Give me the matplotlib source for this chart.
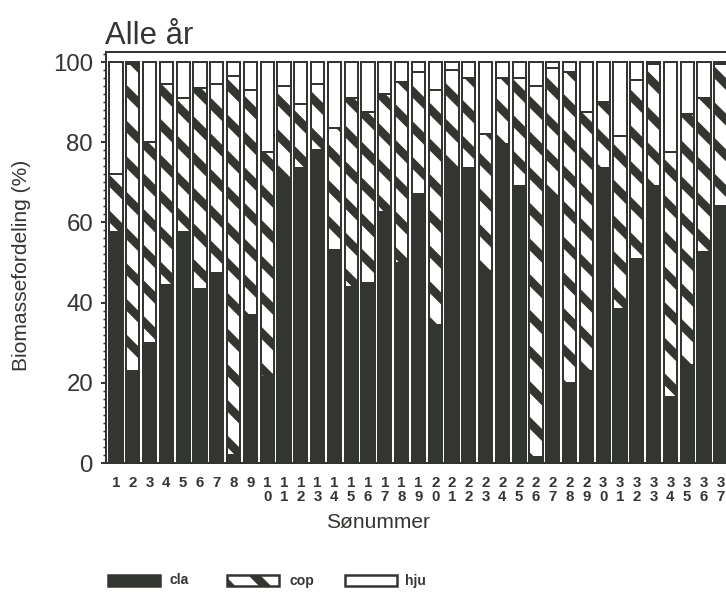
import matplotlib
matplotlib.use("Agg")
import matplotlib.pyplot as plt
from matplotlib.patches import Rectangle
from matplotlib.ticker import MultipleLocator
import numpy as np

# Biomass distribution per lake (percent): cla, cop, hju
lakes = list(range(1, 38))
cla = [57.5, 23, 30, 44.5, 57.5, 43.5, 47.5, 2, 37, 21.5,
       71, 73.5, 78, 53, 44, 45, 62.5, 50, 67, 34.5,
       73.5, 73.5, 48, 79.5, 69, 1.5, 66.5, 20, 23, 73.5,
       38.5, 51, 69, 16.5, 24.5, 52.5, 64]
cop = [14.5, 76.5, 50, 50, 33.5, 50, 47, 94.5, 56, 56,
       23, 16, 16.5, 30.5, 47, 42.5, 29.5, 45, 30.5, 58.5,
       24.5, 22.5, 34, 16.5, 27, 92.5, 32, 77.5, 64.5, 16.5,
       43, 44.5, 30.5, 61, 62.5, 38.5, 35.5]
hju = [28, 0.5, 20, 5.5, 9, 6.5, 5.5, 3.5, 7, 22.5,
       6, 10.5, 5.5, 16.5, 9, 12.5, 8, 5, 2.5, 7,
       2, 4, 18, 4, 4, 6, 1.5, 2.5, 12.5, 10,
       18.5, 4.5, 0.5, 22.5, 13, 9, 0.5]
tick_labels = ["\n".join(str(n)) for n in lakes]
series_names = ["cla", "cop", "hju"]

DARK = "#323530"
W, H, DPI = 726, 597, 107


def pt(px):
    """Convert a size in output pixels to points."""
    return px * 72 / DPI


plt.rcParams["font.family"] = ["Liberation Sans", "DejaVu Sans"]
plt.rcParams["hatch.linewidth"] = pt(8.5)
plt.rcParams["hatch.color"] = DARK

fig = plt.figure(figsize=(W / DPI, H / DPI), dpi=DPI)
fig.patch.set_facecolor("white")

ax_left, ax_bottom = 106 / W, 1 - 463 / H
ax_height = (463 - 52) / H
ax_width = (38 - 0.405) * 16.8 / W
ax = fig.add_axes([ax_left, ax_bottom, ax_width, ax_height])

x = np.array(lakes)
cla_a, cop_a, hju_a = np.array(cla), np.array(cop), np.array(hju)
bw = 0.78
lw = pt(2)
ax.bar(x, cla_a, bw, color=DARK, edgecolor=DARK, linewidth=lw, zorder=2)
ax.bar(x, cop_a, bw, bottom=cla_a, color="white", edgecolor=DARK,
       linewidth=lw, hatch="\\", zorder=2)
ax.bar(x, hju_a, bw, bottom=cla_a + cop_a, color="white", edgecolor=DARK,
       linewidth=lw, zorder=2)

ax.set_xlim(0.405, 38)
ax.set_ylim(0, 102.5)
ax.set_xticks(x)
ax.set_xticklabels(tick_labels, fontsize=pt(15), fontweight="bold",
                   linespacing=1.0)
ax.tick_params(axis="x", length=0, pad=pt(13), colors=DARK)
ax.set_yticks([0, 20, 40, 60, 80, 100])
ax.yaxis.set_minor_locator(MultipleLocator(2))
ax.tick_params(axis="y", which="major", length=pt(5), width=pt(2),
               labelsize=pt(24), pad=pt(8), colors=DARK)
ax.tick_params(axis="y", which="minor", length=pt(3), width=pt(1.5),
               colors=DARK)
for s in ax.spines.values():
    s.set_linewidth(pt(2))
    s.set_color(DARK)

fig.text(105 / W, 1 - 44 / H, "Alle år", fontsize=pt(31), color=DARK,
         ha="left", va="baseline")
fig.text(22 / W, 1 - 265 / H, "Biomassefordeling (%)", fontsize=pt(21),
         color=DARK, rotation=90, ha="center", va="center")
fig.text(378 / W, 1 - 522 / H, "Sønummer", fontsize=pt(21), color=DARK,
         ha="center", va="center")

# legend row along the bottom
ly, lh = 1 - 586 / H, 11 / H
legend_items = [(108, 170, dict(facecolor=DARK)),
                (227, 290, dict(facecolor="white", hatch="\\")),
                (345, 405, dict(facecolor="white"))]
for (px, tx, style), name in zip(legend_items, series_names):
    fig.add_artist(Rectangle((px / W, ly), 52 / W, lh, transform=fig.transFigure,
                             edgecolor=DARK, linewidth=pt(2.5), **style))
    fig.text(tx / W, ly + lh / 2, name, fontsize=pt(14), fontweight="bold",
             color=DARK, ha="left", va="center")

fig.savefig("out.png", dpi=DPI, facecolor="white")
